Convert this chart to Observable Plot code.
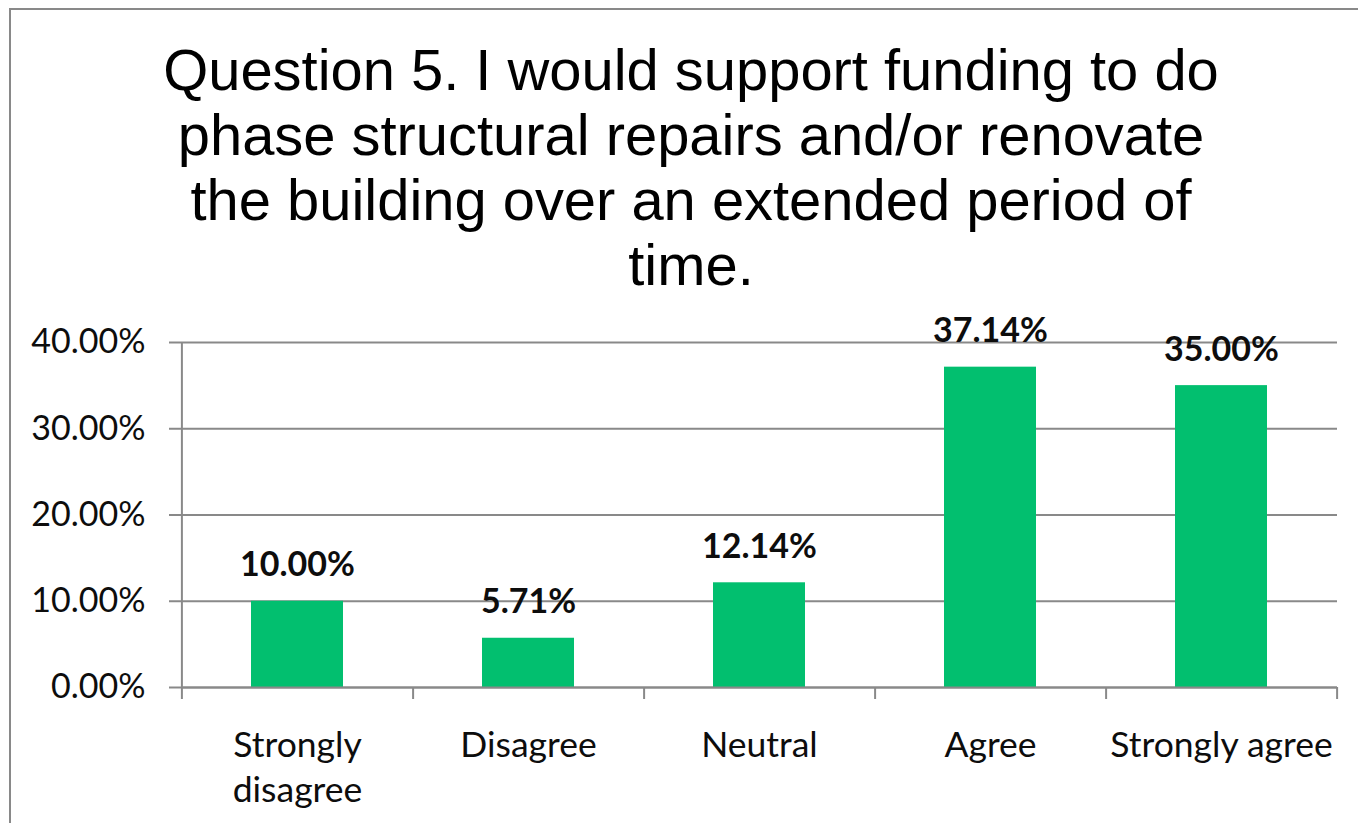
<!DOCTYPE html>
<html><head><meta charset="utf-8">
<script src="https://cdn.jsdelivr.net/npm/d3@7"></script>
<script src="https://cdn.jsdelivr.net/npm/@observablehq/plot@0.6"></script>
<style>
html,body{margin:0;padding:0;background:#fff;overflow:hidden;width:1358px;height:823px}
#frame{position:absolute;left:9px;top:8px;width:1400px;height:900px;border:2px solid #898989;pointer-events:none}
#title{position:absolute;left:0;top:38px;width:1382px;text-align:center;font-family:"Liberation Sans",Arial,sans-serif;font-size:57.9px;line-height:65px;color:#000}
#chart{position:absolute;left:0;top:300px}
</style></head><body>
<div id="title">Question 5. I would support funding to do<br>phase structural repairs and/or renovate<br>the building over an extended period of<br>time.</div>
<div id="chart"></div>
<div id="frame"></div>
<script>
const categories = ["Strongly disagree", "Disagree", "Neutral", "Agree", "Strongly agree"];
const tickLabels = ["Strongly\ndisagree", "Disagree", "Neutral", "Agree", "Strongly agree"];
const values = [10.00, 5.71, 12.14, 37.14, 35.00];
const valueLabels = ["10.00%", "5.71%", "12.14%", "37.14%", "35.00%"];
const yTicks = [0, 10, 20, 30, 40];

const data = categories.map((c, i) => ({category: c, value: values[i], label: valueLabels[i]}));
const W = 1358, H = 523, mL = 181, mR = 21, mT = 42, mB = 136;
const step = (W - mL - mR) / categories.length;
const grey = "#898989";
const ink = "#0d0d0d";
const chart = Plot.plot({
  width: W, height: H, marginLeft: mL, marginRight: mR, marginTop: mT, marginBottom: mB,
  style: {fontFamily: "Lato, sans-serif", fontSize: "34px", color: ink, background: "transparent", overflow: "visible"},
  x: {domain: categories, paddingInner: 0.6, paddingOuter: 0.3},
  y: {domain: [0, 40]},
  marks: [
    Plot.gridY(yTicks, {stroke: grey, strokeOpacity: 1, strokeWidth: 2}),
    Plot.barY(data, {x: "category", y: "value", fill: "#02BF6F"}),
    Plot.axisY(yTicks, {tickSize: 12, tickPadding: 24, tickFormat: d => d.toFixed(2) + "%", stroke: grey, strokeWidth: 2, label: null, fontSize: 34}),
    Plot.ruleX([categories[0]], {x: d => d, y1: 40, y2: 0, dx: -step / 2, insetBottom: -12, stroke: grey, strokeWidth: 2}),
    Plot.ruleX(categories, {x: d => d, y1: 0, y2: 0, dx: step / 2, insetBottom: -12, stroke: grey, strokeWidth: 2}),
    Plot.ruleY([0], {stroke: grey, strokeWidth: 2}),
    Plot.axisX({tickSize: 0, tickPadding: 37, tickFormat: d => tickLabels[categories.indexOf(d)], lineAnchor: "top", lineHeight: 1.27, label: null, fontSize: 35.5}),
    Plot.text(data, {x: "category", y: "value", text: "label", dy: -25, lineAnchor: "bottom", fontWeight: "bold", fontSize: 34, fill: ink})
  ]
});
document.getElementById("chart").appendChild(chart);
</script>
</body></html>
